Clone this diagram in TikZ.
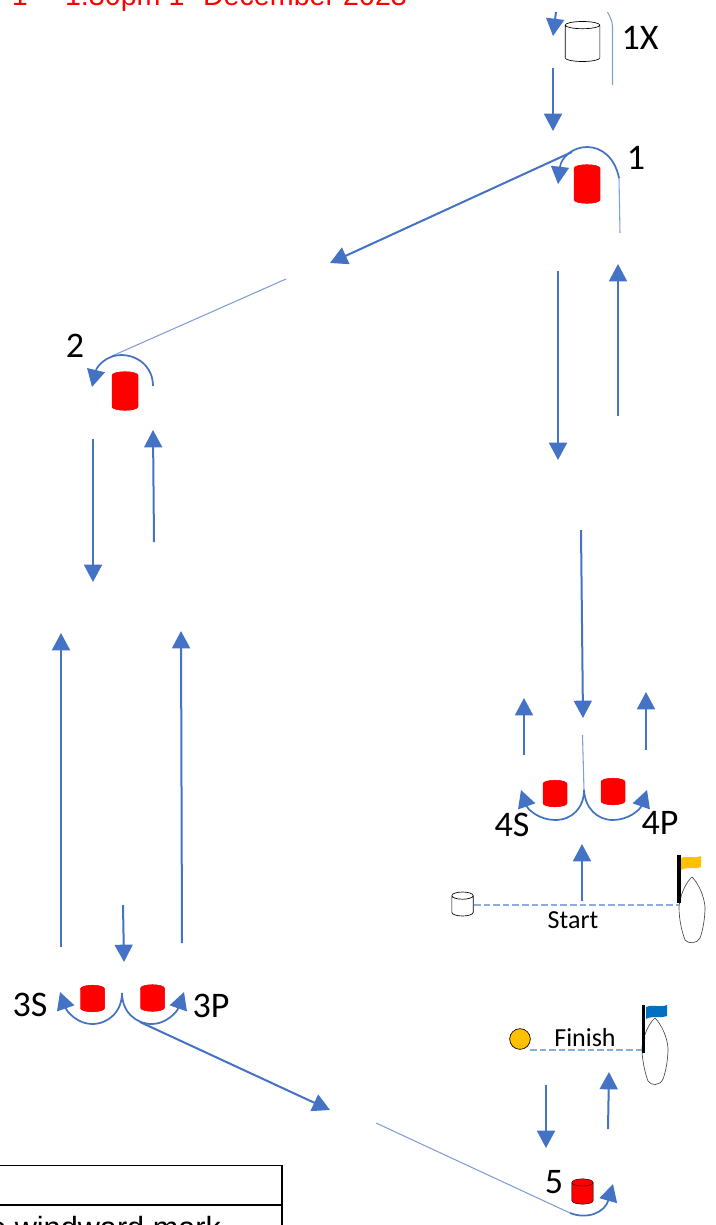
\documentclass[tikz,border=0pt]{standalone}
\usepackage{fontspec}
\setmainfont{Carlito}
\newfontfamily\arialfont{Liberation Sans}
\usetikzlibrary{arrows.meta, shapes.geometric}
\definecolor{legblue}{HTML}{4472C4}
\definecolor{thinblue}{HTML}{7F9FD8}
\definecolor{dashblue}{HTML}{8FAADC}
\definecolor{flagyellow}{HTML}{FFC000}
\definecolor{flagblue}{HTML}{0070C0}
\begin{document}
\begin{tikzpicture}[
        x=0.75pt, y=-0.75pt,
        every node/.style={inner sep=0pt, outer sep=0pt},
        leg/.style={draw=legblue, line width=1.5pt, -{Triangle[length=13pt, width=13.5pt]}},
        legarc/.style={draw=legblue, line width=1.3pt, -{Triangle[length=13pt, width=13.5pt]}},
        thinleg/.style={draw=thinblue, line width=0.8pt},
        finishline/.style={draw=dashblue, line width=0.9pt, dash pattern=on 5pt off 2.2pt},
        buoy/.style={cylinder, anchor=shape center, shape border rotate=90, inner sep=3pt, aspect=0.9, cylinder uses custom fill, cylinder end fill=red!70!white, cylinder body fill=red, fill=red, draw=red, line width=0.3pt, minimum width=25pt, minimum height=28pt},
        smallbuoy/.style={buoy, minimum width=18pt, minimum height=20pt},
        whitebuoy/.style={cylinder, anchor=shape center, shape border rotate=90, inner sep=3pt, aspect=0.9, draw=black, fill=white, line width=0.5pt},
        boat/.style={draw=black!70, line width=0.5pt, fill=white},
        pole/.style={draw=black, line width=2.6pt},
        lbl/.style={font=\fontsize{27}{28}\selectfont},
        smalllbl/.style={font=\fontsize{19.5}{20}\selectfont}
    ]

    \clip (0,0) rectangle (715,1225);

    % title and table cut off by the page
    \node[anchor=base west, text=red, font=\arialfont\fontsize{21.5}{22}\selectfont] (titlea) at (12,5.5) {1};
    \node[anchor=base west, text=red, font=\arialfont\fontsize{21.5}{22}\selectfont] (titleb) at (65,5.5) {1:30pm 1};
    \node[anchor=base west, text=red, font=\arialfont\fontsize{21.5}{22}\selectfont] (titlec) at (203,5.5) {December 2023};
    \draw[line width=1.2pt] (-5,1165.5) rectangle (282,1240);
    \draw[line width=1.2pt] (-5,1205) -- (282,1205);
    \node[anchor=base east, font=\arialfont\fontsize{23}{24}\selectfont] (tabletext) at (221,1238) {to windward mark};

    % marks
    \node[whitebuoy, minimum width=26pt, minimum height=30pt] (markx) at (582.5,41.5) {};
    \node[buoy, minimum width=19.5pt, minimum height=29pt] (markone) at (587,184) {};
    \node[buoy, minimum width=19.5pt, minimum height=29pt] (marktwo) at (125,391) {};
    \node[smallbuoy] (markthrees) at (92.5,998.5) {};
    \node[smallbuoy] (markthreep) at (152.5,998) {};
    \node[smallbuoy] (markfours) at (555,793.5) {};
    \node[smallbuoy] (markfourp) at (613,791.5) {};
    \node[smallbuoy, draw=black, minimum width=16pt, minimum height=19pt] (markfive) at (582.5,1191.5) {};
    \node[whitebuoy, minimum width=16pt, minimum height=18pt] (startpin) at (462.5,904) {};
    \node[circle, draw=black, fill=flagyellow, line width=0.5pt, minimum size=15.5pt] (finishpin) at (520,1039) {};

    % labels
    \node[lbl] (lx) at (640,38) {1X};
    \node[lbl] (lone) at (636,158) {1};
    \node[lbl] (ltwo) at (75,346) {2};
    \node[lbl] (lthrees) at (30,1005) {3S};
    \node[lbl] (lthreep) at (211,1006) {3P};
    \node[lbl] (lfours) at (512,825) {4S};
    \node[lbl] (lfourp) at (660,823) {4P};
    \node[lbl] (lfive) at (554,1182) {5};
    \node[smalllbl] (lstart) at (573,920) {Start};
    \node[smalllbl] (lfinish) at (585,1038) {Finish};

    % committee boats
    \draw[boat] (692,877) .. controls (686,882) and (680,895) .. (679,907) .. controls (679,920) and (682,932) .. (685,940) .. controls (688,944) and (697,944) .. (700,938) .. controls (703,930) and (705,918) .. (705,907) .. controls (704,895) and (698,883) .. (692,877) -- cycle;
    \draw[boat] (655,1018) .. controls (649,1023) and (643,1036) .. (642,1048) .. controls (642,1060) and (645,1073) .. (648,1081) .. controls (651,1086) and (660,1086) .. (663,1079) .. controls (666,1071) and (668,1059) .. (668,1048) .. controls (667,1036) and (661,1024) .. (655,1018) -- cycle;
    \coordinate (startpole) at (679,855);
    \coordinate (startfoot) at (679,903);
    \coordinate (startfree) at (474,905);
    \coordinate (finishpole) at (643.5,1005);
    \coordinate (finishfoot) at (643.5,1053);
    \coordinate (finishfree) at (530,1050);
    \draw[finishline] (startfree) -- (startpole |- startfree);
    \draw[finishline] (finishfree) -- (finishpole |- finishfree);
    \draw[pole] (startpole) -- (startfoot);
    \draw[pole] (finishpole) -- (finishfoot);
    \fill[flagyellow] (681,858) .. controls (688,855) and (694,859) .. (701,856) -- (701,867) .. controls (694,870) and (688,866) .. (681,870) -- cycle;
    \fill[flagblue] (646,1007) .. controls (653,1004) and (660,1008) .. (667,1005) -- (667,1016) .. controls (660,1019) and (653,1015) .. (646,1019) -- cycle;

    % free ends of the legs
    \coordinate (xa) at (556,12);
    \coordinate (xb) at (553,36);
    \coordinate (xc) at (553,68);
    \coordinate (xd) at (553,131);
    \coordinate (xe) at (607.5,12);
    \coordinate (xf) at (612.5,27);
    \coordinate (xg) at (612.5,85);
    \coordinate (onea) at (620,233);
    \coordinate (oneb) at (619,178);
    \coordinate (onec) at (587,147);
    \coordinate (oned) at (558,184);
    \coordinate (twoa) at (572,152);
    \coordinate (twob) at (330,263);
    \coordinate (twoc) at (286,279);
    \coordinate (twod) at (112,356);
    \coordinate (twoe) at (153,386);
    \coordinate (twof) at (121,355);
    \coordinate (twog) at (92,387);
    \coordinate (downa) at (558,271);
    \coordinate (downb) at (558,460);
    \coordinate (upa) at (618,416);
    \coordinate (upb) at (618,264);
    \coordinate (downc) at (581,530);
    \coordinate (downd) at (583,718);
    \coordinate (foura) at (582.5,735);
    \coordinate (fourb) at (584,790);
    \coordinate (fourc) at (555,820);
    \coordinate (fourd) at (521,790);
    \coordinate (foure) at (613,820);
    \coordinate (fourf) at (647,790);
    \coordinate (ups) at (524,755);
    \coordinate (upsb) at (524,698);
    \coordinate (upp) at (646,750);
    \coordinate (uppb) at (646,692);
    \coordinate (starta) at (582,901);
    \coordinate (startb) at (582,844);
    \coordinate (lefta) at (93,439);
    \coordinate (leftb) at (93,582);
    \coordinate (leftc) at (154,542);
    \coordinate (leftd) at (153,430);
    \coordinate (lefte) at (61,947);
    \coordinate (leftf) at (61,633);
    \coordinate (leftg) at (182,943);
    \coordinate (lefth) at (181,631);
    \coordinate (threea) at (123,905);
    \coordinate (threeb) at (124,962);
    \coordinate (threec) at (122,993);
    \coordinate (threed) at (92,1024);
    \coordinate (threee) at (60,992);
    \coordinate (threef) at (152,1024);
    \coordinate (threeg) at (184,992);
    \coordinate (fivea) at (140,1022);
    \coordinate (fiveb) at (330,1110);
    \coordinate (fivec) at (376,1123);
    \coordinate (fived) at (570,1213);
    \coordinate (fivee) at (613,1184);
    \coordinate (homea) at (546,1085);
    \coordinate (homeb) at (546,1148);
    \coordinate (homec) at (608,1129);
    \coordinate (homed) at (609,1072);

    % around 1X and 1
    \draw[leg] (xa) -- (xb);
    \draw[thinleg] (xe) .. controls (610,17) and (612.5,21) .. (xf) -- (xg);
    \draw[leg] (xc) -- (xd);
    \draw[thinleg] (onea) -- (oneb);
    \draw[legarc] (oneb) .. controls (615,158) and (602,147) .. (onec) .. controls (572,147) and (561,158) .. (oned);

    % reach to 2
    \draw[leg] (twoa) -- (twob);
    \draw[thinleg] (twoc) -- (twod);
    \draw[legarc] (twoe) .. controls (153,367) and (138,355) .. (twof) .. controls (107,355) and (97,366) .. (twog);

    % beats and runs
    \draw[leg] (downa) -- (downb);
    \draw[leg] (upa) -- (upb);
    \draw[leg] (downc) -- (downd);
    \draw[thinleg] (foura) -- (fourb);
    \draw[legarc] (fourb) .. controls (584,808) and (572,820) .. (fourc) .. controls (540,820) and (528,810) .. (fourd);
    \draw[legarc] (fourb) .. controls (585,808) and (597,820) .. (foure) .. controls (628,820) and (640,810) .. (fourf);
    \draw[leg] (ups) -- (upsb);
    \draw[leg] (upp) -- (uppb);
    \draw[leg] (starta) -- (startb);
    \draw[leg] (lefta) -- (leftb);
    \draw[leg] (leftc) -- (leftd);
    \draw[leg] (lefte) -- (leftf);
    \draw[leg] (leftg) -- (lefth);

    % gate 3 and on to 5
    \draw[leg] (threea) -- (threeb);
    \draw[legarc] (threec) .. controls (122,1012) and (108,1024) .. (threed) .. controls (78,1024) and (67,1012) .. (threee);
    \draw[legarc] (threec) .. controls (122,1012) and (136,1024) .. (threef) .. controls (166,1024) and (177,1012) .. (threeg);
    \draw[leg] (fivea) -- (fiveb);
    \draw[thinleg] (fivec) -- (fived);
    \draw[legarc] (fived) .. controls (588,1220) and (605,1212) .. (fivee);
    \draw[leg] (homea) -- (homeb);
    \draw[leg] (homec) -- (homed);

\end{tikzpicture}
\end{document}
